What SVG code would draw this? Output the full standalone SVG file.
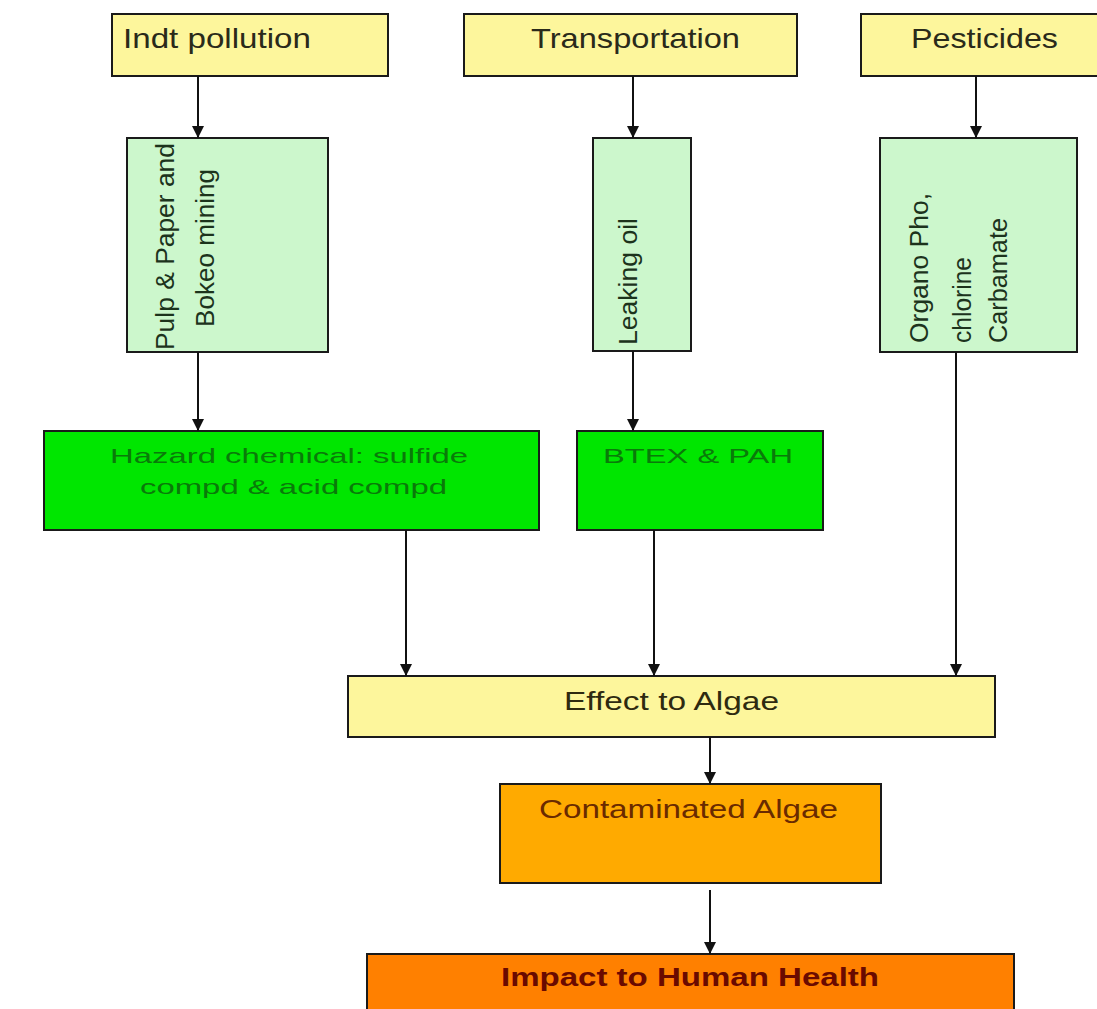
<svg xmlns="http://www.w3.org/2000/svg" width="1097" height="1009" viewBox="0 0 1097 1009">
<style>
  text { font-family: "Liberation Sans", Arial, sans-serif; }
  .box { stroke: #1a1a1a; stroke-width: 2; }
  .yellow { fill: #fdf69c; }
  .lgreen { fill: #ccf7cc; }
  .green { fill: #00e600; }
  .orange { fill: #ffaa00; }
  .dorange { fill: #ff8000; }
  .top { font-size: 28px; fill: #2a2a1a; }
  .vert { font-size: 25px; fill: #1c331c; }
  .chem { font-size: 21px; fill: #0a7a0a; }
  .mid { font-size: 25px; fill: #2e2a10; }
  .cont { font-size: 25px; fill: #6a2a00; }
  .impact { font-size: 25px; font-weight: bold; fill: #6a0a00; }
  .conn line { stroke: #111; stroke-width: 2; }
</style>
<defs>
  <marker id="arr" viewBox="0 0 10 10" refX="10" refY="5" markerWidth="12" markerHeight="12" markerUnits="userSpaceOnUse" orient="auto">
    <path d="M0,0 L10,5 L0,10 Z" fill="#111"/>
  </marker>
</defs>
<rect width="1097" height="1009" fill="#ffffff"/>

<g id="indt">
  <rect class="box yellow" x="112" y="14" width="276" height="62"/>
  <text class="top" x="123" y="48" textLength="188" lengthAdjust="spacingAndGlyphs">Indt pollution</text>
</g>
<g id="transportation">
  <rect class="box yellow" x="464" y="14" width="333" height="62"/>
  <text class="top" x="531" y="48" textLength="209" lengthAdjust="spacingAndGlyphs">Transportation</text>
</g>
<g id="pesticides">
  <rect class="box yellow" x="861" y="14" width="250" height="62"/>
  <text class="top" x="911" y="48" textLength="147" lengthAdjust="spacingAndGlyphs">Pesticides</text>
</g>

<g id="pulp">
  <rect class="box lgreen" x="127" y="138" width="201" height="214"/>
  <text class="vert" transform="translate(174,350) rotate(-90)" textLength="207" lengthAdjust="spacingAndGlyphs">Pulp &amp; Paper and</text>
  <text class="vert" transform="translate(214,327) rotate(-90)" textLength="158" lengthAdjust="spacingAndGlyphs">Bokeo mining</text>
</g>
<g id="leaking">
  <rect class="box lgreen" x="593" y="138" width="98" height="213"/>
  <text class="vert" transform="translate(637,345) rotate(-90)" textLength="127" lengthAdjust="spacingAndGlyphs">Leaking oil</text>
</g>
<g id="organo">
  <rect class="box lgreen" x="880" y="138" width="197" height="214"/>
  <text class="vert" transform="translate(928,343) rotate(-90)" textLength="150" lengthAdjust="spacingAndGlyphs">Organo Pho,</text>
  <text class="vert" transform="translate(971,343) rotate(-90)" textLength="86" lengthAdjust="spacingAndGlyphs">chlorine</text>
  <text class="vert" transform="translate(1007,343) rotate(-90)" textLength="125" lengthAdjust="spacingAndGlyphs">Carbamate</text>
</g>

<g id="hazard">
  <rect class="box green" x="44" y="431" width="495" height="99"/>
  <text class="chem" x="110" y="463" textLength="358" lengthAdjust="spacingAndGlyphs">Hazard chemical: sulfide</text>
  <text class="chem" x="140" y="494" textLength="307" lengthAdjust="spacingAndGlyphs">compd &amp; acid compd</text>
</g>
<g id="btex">
  <rect class="box green" x="577" y="431" width="246" height="99"/>
  <text class="chem" x="603" y="463" textLength="190" lengthAdjust="spacingAndGlyphs">BTEX &amp; PAH</text>
</g>

<g id="effect">
  <rect class="box yellow" x="348" y="676" width="647" height="61"/>
  <text class="mid" x="564" y="710" textLength="215" lengthAdjust="spacingAndGlyphs">Effect to Algae</text>
</g>
<g id="contaminated">
  <rect class="box orange" x="500" y="784" width="381" height="99"/>
  <text class="cont" x="539" y="818" textLength="299" lengthAdjust="spacingAndGlyphs">Contaminated Algae</text>
</g>
<g id="impact">
  <rect class="box dorange" x="367" y="954" width="647" height="70"/>
  <text class="impact" x="501" y="986" textLength="378" lengthAdjust="spacingAndGlyphs">Impact to Human Health</text>
</g>

<g id="connectors" class="conn">
  <line x1="198" y1="76" x2="198" y2="138" marker-end="url(#arr)"/>
  <line x1="633" y1="76" x2="633" y2="138" marker-end="url(#arr)"/>
  <line x1="976" y1="76" x2="976" y2="138" marker-end="url(#arr)"/>
  <line x1="198" y1="352" x2="198" y2="431" marker-end="url(#arr)"/>
  <line x1="633" y1="351" x2="633" y2="431" marker-end="url(#arr)"/>
  <line x1="406" y1="530" x2="406" y2="676" marker-end="url(#arr)"/>
  <line x1="654" y1="530" x2="654" y2="676" marker-end="url(#arr)"/>
  <line x1="956" y1="352" x2="956" y2="676" marker-end="url(#arr)"/>
  <line x1="710" y1="737" x2="710" y2="784" marker-end="url(#arr)"/>
  <line x1="710" y1="890" x2="710" y2="954" marker-end="url(#arr)"/>
</g>
</svg>
